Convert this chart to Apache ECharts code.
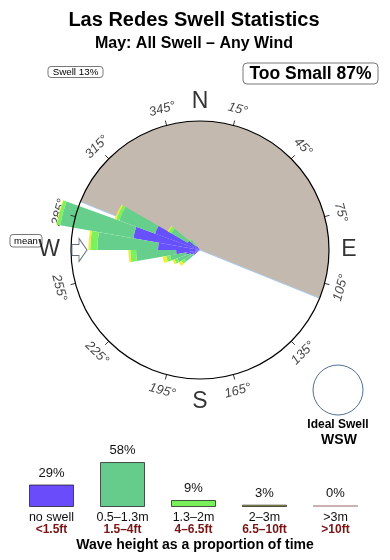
<!DOCTYPE html>
<html><head><meta charset="utf-8">
<script src="https://cdn.jsdelivr.net/npm/echarts@6/dist/echarts.min.js"></script>
<style>html,body{margin:0;padding:0;background:#fff}#c{width:390px;height:560px}</style>
</head><body><div id="c"></div>
<script>
// ---- data ----
const binStarts  = [230, 240, 250, 260, 270, 280, 290, 300, 310];   // direction bins (10 deg wide)
const swellNone  = [6, 7.5, 11, 18.5, 32.5, 52.5, 37, 11, 4];        // <1.5ft
const swellSmall = [8, 11, 12.5, 31, 47, 57.5, 29.5, 14.5, 6];        // 1.5-4ft
const swellMid   = [2.5, 2.5, 3, 4.5, 5.5, 2.5, 2.5, 2.5, 1];          // 4-6.5ft
const swellBig   = [2.5, 1.5, 3, 1.5, 1.5, 0.5, 1.2, 0.8, 0];          // 6.5-10ft
const compassTicks = [15, 45, 75, 105, 135, 165, 195, 225, 255, 285, 315, 345];
const compassPoints = ['N', 'E', 'S', 'W'];
const compassBearings = [0, 90, 180, 270];
const shelterFrom = 292;  // grey sector start bearing (clockwise 180 deg)
const meanBearing = 270;
const heightsMetric = ['no swell', '0.5–1.3m', '1.3–2m', '2–3m', '>3m'];
const heightsFeet = ['<1.5ft', '1.5–4ft', '4–6.5ft', '6.5–10ft', '>10ft'];
const heightPct = [29, 58, 9, 3, 0];

// ---- build ----
const binLabels = [];
for (let b = 0; b < 360; b += 10) binLabels.push(String(b));
function full(arr) {
  const out = new Array(36).fill(0);
  binStarts.forEach((s, i) => { out[s / 10] = arr[i]; });
  return out;
}
const off = 15; // angle axis of polar 0 starts at bearing 15
const toV = b => ((b - off) % 360 + 360) % 360;
const FONT = 'Liberation Sans, Arial, sans-serif';

const roseColors = ['#6650ff', '#66cf8c', '#7cf25a', '#eeee3a'];
const roseSeries = [swellNone, swellSmall, swellMid, swellBig].map((arr, i) => ({
  type: 'bar', coordinateSystem: 'polar', polarIndex: 1, stack: 'rose',
  data: full(arr), barWidth: '100%', barCategoryGap: '0%', silent: true, z: 3,
  itemStyle: { color: roseColors[i] }
}));

const tickLabelData = compassTicks.map(b => {
  let rot = (b > 90 && b < 270) ? b - 180 : (b >= 270 ? b - 360 : b);
  return { value: [113, toV(b)], label: { formatter: b + '°', rotate: -rot } };
});
const nesrData = compassPoints.map((p, i) => ({
  value: [[114.7, 115.5, 117.4, 117][i], toV(compassBearings[i])],
  label: { formatter: p }
}));

const barColors = ['#6a4cfa', '#66cc8c', '#77f05a', '#cccc3c', '#cbb2b2'];

const chart = echarts.init(document.getElementById('c'));
chart.setOption({
  animation: false,
  textStyle: { fontFamily: FONT },
  polar: [
    { center: [200, 250], radius: 129 },
    { center: [200, 250], radius: 155 }
  ],
  angleAxis: [
    { polarIndex: 0, type: 'value', min: 0, max: 360, interval: 30, startAngle: 90 - off, clockwise: true,
      axisLine: { lineStyle: { color: '#000', width: 1.2 } },
      axisTick: { show: true, inside: false, length: 5, lineStyle: { color: '#333', width: 1 } },
      axisLabel: { show: false }, splitLine: { show: false }, z: 10 },
    { polarIndex: 1, type: 'category', data: binLabels, startAngle: 90, clockwise: true, boundaryGap: true,
      axisLine: { show: false }, axisTick: { show: false }, axisLabel: { show: false }, splitLine: { show: false } }
  ],
  radiusAxis: [
    { polarIndex: 0, type: 'value', min: 0, max: 100, axisLine: { show: false }, axisTick: { show: false }, axisLabel: { show: false }, splitLine: { show: false } },
    { polarIndex: 1, type: 'value', min: 0, max: 120, axisLine: { show: false }, axisTick: { show: false }, axisLabel: { show: false }, splitLine: { show: false } }
  ],
  grid: { left: 16, right: 19, top: 460.5, bottom: 53 },
  xAxis: { type: 'category', data: heightsMetric,
    axisLine: { show: false }, axisTick: { show: false },
    axisLabel: { margin: 5, interval: 0,
      formatter: (v, i) => '{a|' + v + '}\n{b|' + heightsFeet[i] + '}',
      rich: { a: { fontSize: 12.5, color: '#111', lineHeight: 11.5, fontFamily: FONT },
              b: { fontSize: 12, color: '#7a1414', fontWeight: 'bold', lineHeight: 11.5, fontFamily: FONT } } } },
  yAxis: { type: 'value', min: 0, max: 60, show: false },
  series: [
    { type: 'pie', center: [200, 250], radius: 129, startAngle: 90 - shelterFrom, clockwise: true,
      silent: true, z: 1, label: { show: false }, labelLine: { show: false },
      itemStyle: { borderWidth: 0 },
      data: [{ value: 180, itemStyle: { color: '#c4b9ae' } }, { value: 180, itemStyle: { color: 'rgba(0,0,0,0)' } }] },
    { type: 'line', coordinateSystem: 'polar', polarIndex: 0, clip: false, silent: true, z: 2,
      symbol: 'none', lineStyle: { color: '#a9cbea', width: 1 },
      data: [[100, toV(shelterFrom)], [100, toV(shelterFrom + 180)]] },
    { type: 'scatter', coordinateSystem: 'polar', polarIndex: 0, clip: false, silent: true, z: 1,
      symbolSize: 0, data: tickLabelData,
      label: { show: true, position: 'inside', fontSize: 13, fontStyle: 'italic', color: '#111', fontFamily: FONT } },
    { type: 'scatter', coordinateSystem: 'polar', polarIndex: 0, clip: false, silent: true, z: 4,
      symbolSize: 0, data: nesrData,
      label: { show: true, position: 'inside', fontSize: 23, color: '#000', fontFamily: FONT } },
    ...roseSeries,
    { type: 'scatter', coordinateSystem: 'polar', polarIndex: 0, clip: false, silent: true, z: 11,
      symbol: 'path://M0,6L7,6L7,0L15,11.5L7,23L7,17L0,17Z', symbolSize: [15, 23],
      itemStyle: { color: '#fff', borderColor: '#3d4b5c', borderWidth: 1 },
      data: [[93.4, toV(meanBearing)]] },
    { type: 'bar', xAxisIndex: 0, yAxisIndex: 0, barWidth: 45, barMinHeight: 2, silent: true,
      data: heightPct.map((v, i) => ({ value: v, itemStyle: { color: barColors[i],
        borderColor: i < 4 ? 'rgba(30,30,30,0.75)' : 'rgba(0,0,0,0)', borderWidth: i < 4 ? 1 : 0 } })),
      label: { show: true, position: 'top', distance: 5, formatter: '{c}%', fontSize: 13, color: '#111', fontFamily: FONT } }
  ],
  graphic: [
    { type: 'text', x: 194, y: 20, style: { text: 'Las Redes Swell Statistics', font: 'bold 20px ' + FONT, fill: '#000', textAlign: 'center', textVerticalAlign: 'middle' } },
    { type: 'text', x: 194, y: 44, style: { text: 'May: All Swell – Any Wind', font: 'bold 16px ' + FONT, fill: '#000', textAlign: 'center', textVerticalAlign: 'middle' } },
    { type: 'rect', shape: { x: 48, y: 66.5, width: 55, height: 11, r: 3 }, style: { fill: '#fff', stroke: '#555', lineWidth: 0.8 } },
    { type: 'text', x: 75.5, y: 72.3, style: { text: 'Swell 13%', font: '9.8px ' + FONT, fill: '#000', textAlign: 'center', textVerticalAlign: 'middle' } },
    { type: 'rect', shape: { x: 243, y: 63, width: 135, height: 21, r: 4 }, style: { fill: '#fff', stroke: '#555', lineWidth: 0.8 } },
    { type: 'text', x: 310.5, y: 74, style: { text: 'Too Small 87%', font: 'bold 17.5px ' + FONT, fill: '#000', textAlign: 'center', textVerticalAlign: 'middle' } },
    { type: 'rect', z: 0, shape: { x: 10, y: 234.5, width: 32, height: 12.5, r: 3 }, style: { fill: '#fff', stroke: '#555', lineWidth: 0.8 } },
    { type: 'text', x: 26, y: 241, style: { text: 'mean', font: '9.5px ' + FONT, fill: '#000', textAlign: 'center', textVerticalAlign: 'middle' } },
    { type: 'circle', shape: { cx: 338, cy: 390, r: 25 }, style: { fill: '#fff', stroke: '#4f6f95', lineWidth: 1 } },
    { type: 'text', x: 338, y: 425, style: { text: 'Ideal Swell', font: 'bold 12px ' + FONT, fill: '#000', textAlign: 'center', textVerticalAlign: 'middle' } },
    { type: 'text', x: 339, y: 440, style: { text: 'WSW', font: 'bold 14px ' + FONT, fill: '#000', textAlign: 'center', textVerticalAlign: 'middle' } },
    { type: 'text', x: 195, y: 545, style: { text: 'Wave height as a proportion of time', font: 'bold 14px ' + FONT, fill: '#000', textAlign: 'center', textVerticalAlign: 'middle' } }
  ]
});
</script></body></html>
